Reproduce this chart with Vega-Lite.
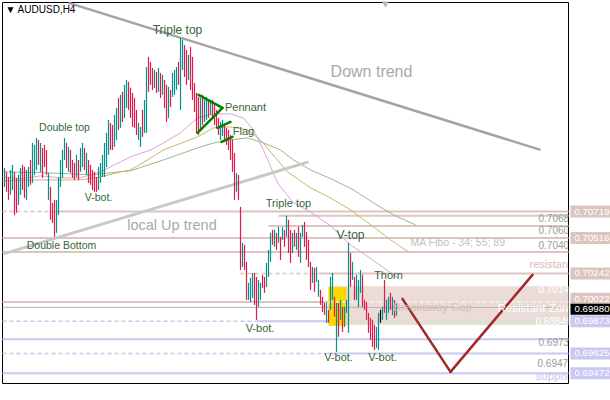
{
"$schema": "https://vega.github.io/schema/vega-lite/v6.json",
"width": 566, "height": 381,
"autosize": {"type": "none"},
"padding": {"left": 2, "top": 2, "right": 42, "bottom": 17},
"background": "white",
"config": {"view": {"stroke": "black", "strokeWidth": 1}, "font": "Liberation Sans"},
"datasets": {
"bars": [
{"t":1,"h":0.71056,"l":0.70909,"d":"u"},{"t":2,"h":0.71025,"l":0.70871,"d":"d"},{"t":3,"h":0.70986,"l":0.70809,"d":"d"},{"t":4,"h":0.7104,"l":0.70848,"d":"u"},{"t":5,"h":0.71079,"l":0.70886,"d":"u"},{"t":6,"h":0.71025,"l":0.70693,"d":"d"},{"t":7,"h":0.70979,"l":0.70709,"d":"d"},{"t":8,"h":0.71002,"l":0.7077,"d":"u"},{"t":9,"h":0.71056,"l":0.70848,"d":"u"},{"t":10,"h":0.71079,"l":0.70886,"d":"d"},
{"t":11,"h":0.71063,"l":0.70824,"d":"d"},{"t":12,"h":0.7104,"l":0.70809,"d":"u"},{"t":13,"h":0.71063,"l":0.70909,"d":"u"},{"t":14,"h":0.71117,"l":0.70925,"d":"d"},{"t":15,"h":0.71248,"l":0.7094,"d":"u"},{"t":16,"h":0.71233,"l":0.71002,"d":"u"},{"t":17,"h":0.71287,"l":0.7104,"d":"u"},{"t":18,"h":0.71272,"l":0.71079,"d":"d"},{"t":19,"h":0.71248,"l":0.71025,"d":"u"},{"t":20,"h":0.7121,"l":0.70979,"d":"d"},
{"t":21,"h":0.71233,"l":0.71063,"d":"d"},{"t":22,"h":0.71194,"l":0.71002,"d":"d"},{"t":23,"h":0.71017,"l":0.70809,"d":"u"},{"t":24,"h":0.70909,"l":0.70655,"d":"d"},{"t":25,"h":0.70786,"l":0.70632,"d":"d"},{"t":26,"h":0.70809,"l":0.70524,"d":"d"},{"t":27,"h":0.70809,"l":0.70555,"d":"u"},{"t":28,"h":0.70986,"l":0.70693,"d":"u"},{"t":29,"h":0.71117,"l":0.70909,"d":"u"},{"t":30,"h":0.71194,"l":0.70979,"d":"u"},
{"t":31,"h":0.71287,"l":0.71117,"d":"u"},{"t":32,"h":0.71248,"l":0.71056,"d":"d"},{"t":33,"h":0.71218,"l":0.71025,"d":"u"},{"t":34,"h":0.71194,"l":0.71017,"d":"d"},{"t":35,"h":0.71117,"l":0.70979,"d":"d"},{"t":36,"h":0.71094,"l":0.70963,"d":"d"},{"t":37,"h":0.71156,"l":0.70986,"d":"u"},{"t":38,"h":0.71117,"l":0.70963,"d":"d"},{"t":39,"h":0.7121,"l":0.71025,"d":"u"},{"t":40,"h":0.71248,"l":0.71063,"d":"u"},
{"t":41,"h":0.7121,"l":0.7104,"d":"d"},{"t":42,"h":0.71171,"l":0.71002,"d":"u"},{"t":43,"h":0.71117,"l":0.7094,"d":"d"},{"t":44,"h":0.71079,"l":0.70925,"d":"d"},{"t":45,"h":0.7104,"l":0.70886,"d":"d"},{"t":46,"h":0.71025,"l":0.70871,"d":"d"},{"t":47,"h":0.70986,"l":0.70871,"d":"d"},{"t":48,"h":0.71063,"l":0.70886,"d":"u"},{"t":49,"h":0.71094,"l":0.7094,"d":"u"},{"t":50,"h":0.71156,"l":0.70986,"d":"u"},
{"t":51,"h":0.71248,"l":0.70986,"d":"u"},{"t":52,"h":0.71326,"l":0.71063,"d":"u"},{"t":53,"h":0.71426,"l":0.71156,"d":"u"},{"t":54,"h":0.71403,"l":0.71194,"d":"d"},{"t":55,"h":0.71387,"l":0.71194,"d":"d"},{"t":56,"h":0.71464,"l":0.71218,"d":"u"},{"t":57,"h":0.71518,"l":0.71272,"d":"u"},{"t":58,"h":0.71595,"l":0.71349,"d":"d"},{"t":59,"h":0.71619,"l":0.71364,"d":"u"},{"t":60,"h":0.71642,"l":0.7141,"d":"d"},
{"t":61,"h":0.71696,"l":0.71441,"d":"u"},{"t":62,"h":0.71734,"l":0.71518,"d":"u"},{"t":63,"h":0.71719,"l":0.71503,"d":"d"},{"t":64,"h":0.71673,"l":0.71441,"d":"d"},{"t":65,"h":0.71634,"l":0.71372,"d":"d"},{"t":66,"h":0.71595,"l":0.71364,"d":"d"},{"t":67,"h":0.71503,"l":0.7131,"d":"d"},{"t":68,"h":0.71403,"l":0.71272,"d":"u"},{"t":69,"h":0.71372,"l":0.71218,"d":"u"},{"t":70,"h":0.71503,"l":0.71295,"d":"d"},
{"t":71,"h":0.7158,"l":0.71326,"d":"u"},{"t":72,"h":0.71834,"l":0.71326,"d":"u"},{"t":73,"h":0.71912,"l":0.71642,"d":"d"},{"t":74,"h":0.71873,"l":0.71696,"d":"d"},{"t":75,"h":0.71827,"l":0.71657,"d":"d"},{"t":76,"h":0.71811,"l":0.71673,"d":"u"},{"t":77,"h":0.71796,"l":0.71634,"d":"d"},{"t":78,"h":0.71827,"l":0.71642,"d":"u"},{"t":79,"h":0.71788,"l":0.71595,"d":"d"},{"t":80,"h":0.71773,"l":0.71619,"d":"u"},
{"t":81,"h":0.71734,"l":0.71518,"d":"d"},{"t":82,"h":0.71696,"l":0.7141,"d":"d"},{"t":83,"h":0.7168,"l":0.71441,"d":"u"},{"t":84,"h":0.71657,"l":0.71526,"d":"d"},{"t":85,"h":0.71788,"l":0.71603,"d":"u"},{"t":86,"h":0.71811,"l":0.71619,"d":"u"},{"t":87,"h":0.71834,"l":0.71657,"d":"u"},{"t":88,"h":0.71873,"l":0.71696,"d":"d"},{"t":89,"h":0.72058,"l":0.71503,"d":"u"},{"t":90,"h":0.72043,"l":0.71811,"d":"u"},
{"t":91,"h":0.72004,"l":0.71757,"d":"d"},{"t":92,"h":0.71965,"l":0.71696,"d":"d"},{"t":93,"h":0.71927,"l":0.71734,"d":"u"},{"t":94,"h":0.71989,"l":0.71657,"d":"d"},{"t":95,"h":0.71912,"l":0.7158,"d":"d"},{"t":96,"h":0.71711,"l":0.71487,"d":"d"},{"t":97,"h":0.71634,"l":0.71326,"d":"d"},{"t":98,"h":0.71603,"l":0.7131,"d":"d"},{"t":99,"h":0.71595,"l":0.71349,"d":"u"},{"t":100,"h":0.71619,"l":0.71387,"d":"d"},
{"t":101,"h":0.7158,"l":0.7141,"d":"u"},{"t":102,"h":0.71603,"l":0.71426,"d":"u"},{"t":103,"h":0.7158,"l":0.71441,"d":"d"},{"t":104,"h":0.71565,"l":0.71464,"d":"u"},{"t":105,"h":0.7158,"l":0.71441,"d":"d"},{"t":106,"h":0.71541,"l":0.71387,"d":"d"},{"t":107,"h":0.71503,"l":0.71364,"d":"d"},{"t":108,"h":0.71441,"l":0.7131,"d":"d"},{"t":109,"h":0.7141,"l":0.71272,"d":"u"},{"t":110,"h":0.71426,"l":0.71302,"d":"u"},
{"t":111,"h":0.71387,"l":0.71256,"d":"d"},{"t":112,"h":0.71364,"l":0.71233,"d":"d"},{"t":113,"h":0.71349,"l":0.71194,"d":"d"},{"t":114,"h":0.7131,"l":0.71117,"d":"d"},{"t":115,"h":0.71272,"l":0.71025,"d":"d"},{"t":116,"h":0.71171,"l":0.70809,"d":"d"},{"t":117,"h":0.71017,"l":0.70871,"d":"u"},{"t":118,"h":0.71002,"l":0.70809,"d":"d"},{"t":119,"h":0.70755,"l":0.70269,"d":"d"},{"t":120,"h":0.70478,"l":0.70292,"d":"u"},
{"t":121,"h":0.70462,"l":0.70269,"d":"d"},{"t":122,"h":0.70331,"l":0.70038,"d":"d"},{"t":123,"h":0.70169,"l":0.70038,"d":"u"},{"t":124,"h":0.70208,"l":0.70023,"d":"u"},{"t":125,"h":0.70246,"l":0.70053,"d":"u"},{"t":126,"h":0.70246,"l":0.69999,"d":"d"},{"t":127,"h":0.70215,"l":0.69884,"d":"d"},{"t":128,"h":0.70192,"l":0.69984,"d":"u"},{"t":129,"h":0.70169,"l":0.70038,"d":"u"},{"t":130,"h":0.70231,"l":0.70131,"d":"d"},
{"t":131,"h":0.70215,"l":0.70092,"d":"d"},{"t":132,"h":0.70323,"l":0.70138,"d":"u"},{"t":133,"h":0.70423,"l":0.70215,"d":"u"},{"t":134,"h":0.70555,"l":0.70331,"d":"u"},{"t":135,"h":0.70578,"l":0.70462,"d":"d"},{"t":136,"h":0.70578,"l":0.70447,"d":"u"},{"t":137,"h":0.70555,"l":0.70423,"d":"d"},{"t":138,"h":0.70601,"l":0.70478,"d":"u"},{"t":139,"h":0.70524,"l":0.70346,"d":"d"},{"t":140,"h":0.70601,"l":0.70501,"d":"u"},
{"t":141,"h":0.70578,"l":0.70447,"d":"d"},{"t":142,"h":0.70686,"l":0.70524,"d":"u"},{"t":143,"h":0.70655,"l":0.704,"d":"d"},{"t":144,"h":0.70578,"l":0.70323,"d":"d"},{"t":145,"h":0.70555,"l":0.704,"d":"u"},{"t":146,"h":0.70578,"l":0.70447,"d":"d"},{"t":147,"h":0.70555,"l":0.70423,"d":"u"},{"t":148,"h":0.70601,"l":0.7037,"d":"d"},{"t":149,"h":0.70555,"l":0.70323,"d":"u"},{"t":150,"h":0.70616,"l":0.70524,"d":"u"},
{"t":151,"h":0.70639,"l":0.70447,"d":"d"},{"t":152,"h":0.70562,"l":0.70346,"d":"d"},{"t":153,"h":0.70501,"l":0.70292,"d":"d"},{"t":154,"h":0.70331,"l":0.70115,"d":"d"},{"t":155,"h":0.70292,"l":0.70169,"d":"u"},{"t":156,"h":0.70285,"l":0.701,"d":"d"},{"t":157,"h":0.70292,"l":0.70177,"d":"u"},{"t":158,"h":0.70192,"l":0.70061,"d":"u"},{"t":159,"h":0.70115,"l":0.69999,"d":"d"},{"t":160,"h":0.70061,"l":0.69945,"d":"d"},
{"t":161,"h":0.70015,"l":0.69922,"d":"d"},{"t":162,"h":0.70015,"l":0.69861,"d":"u"},{"t":163,"h":0.69961,"l":0.69861,"d":"d"},{"t":164,"h":0.70215,"l":0.69961,"d":"u"},{"t":165,"h":0.70246,"l":0.70038,"d":"u"},{"t":166,"h":0.70061,"l":0.69907,"d":"d"},{"t":167,"h":0.70015,"l":0.69637,"d":"u"},{"t":168,"h":0.70015,"l":0.69753,"d":"d"},{"t":169,"h":0.70038,"l":0.69884,"d":"u"},{"t":170,"h":0.69984,"l":0.69791,"d":"d"},
{"t":171,"h":0.69984,"l":0.6983,"d":"u"},{"t":172,"h":0.70038,"l":0.69938,"d":"u"},{"t":173,"h":0.70478,"l":0.69784,"d":"u"},{"t":174,"h":0.704,"l":0.70138,"d":"d"},{"t":175,"h":0.70331,"l":0.70192,"d":"u"},{"t":176,"h":0.70215,"l":0.70038,"d":"d"},{"t":177,"h":0.70231,"l":0.70038,"d":"u"},{"t":178,"h":0.70192,"l":0.69984,"d":"u"},{"t":179,"h":0.70269,"l":0.70092,"d":"u"},{"t":180,"h":0.70231,"l":0.69984,"d":"d"},
{"t":181,"h":0.70038,"l":0.69961,"d":"d"},{"t":182,"h":0.70023,"l":0.69884,"d":"d"},{"t":183,"h":0.69938,"l":0.69784,"d":"d"},{"t":184,"h":0.69899,"l":0.6973,"d":"d"},{"t":185,"h":0.69884,"l":0.69676,"d":"d"},{"t":186,"h":0.69845,"l":0.69652,"d":"d"},{"t":187,"h":0.6983,"l":0.69668,"d":"u"},{"t":188,"h":0.69938,"l":0.69652,"d":"u"},{"t":189,"h":0.69961,"l":0.69861,"d":"n"},{"t":190,"h":0.69984,"l":0.69884,"d":"u"},
{"t":191,"h":0.70192,"l":0.69938,"d":"d"},{"t":192,"h":0.70038,"l":0.69884,"d":"u"},{"t":193,"h":0.70061,"l":0.69938,"d":"u"},{"t":194,"h":0.70092,"l":0.69961,"d":"d"},{"t":195,"h":0.70061,"l":0.69922,"d":"u"},{"t":196,"h":0.70038,"l":0.69899,"d":"d"},{"t":197,"h":0.70015,"l":0.69915,"d":"u"}
],
"ma34": [{"t":0,"p":0.70986},{"t":9,"p":0.70971},{"t":19,"p":0.70994},{"t":29,"p":0.70979},{"t":39,"p":0.70979},{"t":49,"p":0.71025},{"t":59,"p":0.71102},{"t":64,"p":0.71141},{"t":74,"p":0.71194},{"t":80.5,"p":0.71248},{"t":89,"p":0.71326},{"t":97.5,"p":0.71441},{"t":105.5,"p":0.71472},{"t":114,"p":0.71472},{"t":120.5,"p":0.71441},{"t":125.5,"p":0.71349},{"t":130.5,"p":0.71194},{"t":137.5,"p":0.7094},{"t":145.5,"p":0.70786},{"t":154,"p":0.70716},{"t":164,"p":0.70609},{"t":174,"p":0.70462},{"t":181.5,"p":0.70385},{"t":190.5,"p":0.70285},{"t":197.5,"p":0.70208}],
"ma55": [{"t":0,"p":0.70955},{"t":19,"p":0.70963},{"t":39,"p":0.70963},{"t":49,"p":0.70986},{"t":59,"p":0.71025},{"t":64,"p":0.7104},{"t":72.5,"p":0.71117},{"t":80.5,"p":0.71194},{"t":97.5,"p":0.71295},{"t":105.5,"p":0.71364},{"t":114,"p":0.71372},{"t":122.5,"p":0.71349},{"t":129,"p":0.71272},{"t":134,"p":0.71179},{"t":142.5,"p":0.71025},{"t":154,"p":0.70902},{"t":164,"p":0.70824},{"t":174,"p":0.70732},{"t":185.5,"p":0.70601},{"t":194,"p":0.70501},{"t":203,"p":0.70408}],
"ma89": [{"t":0,"p":0.71025},{"t":24,"p":0.71017},{"t":44,"p":0.71002},{"t":64,"p":0.71033},{"t":80.5,"p":0.71117},{"t":97.5,"p":0.7121},{"t":105.5,"p":0.71248},{"t":114,"p":0.71272},{"t":122.5,"p":0.71287},{"t":130.5,"p":0.71248},{"t":139,"p":0.71194},{"t":145.5,"p":0.71117},{"t":154,"p":0.7104},{"t":165.5,"p":0.70963},{"t":175.5,"p":0.70886},{"t":185.5,"p":0.70786},{"t":195.5,"p":0.70693},{"t":206.5,"p":0.70616}]
},
"layer": [
{"data": {"values": [{"t": 163, "t2": 283, "p": 0.70144, "p2": 0.69845}]},
 "mark": {"type": "rect", "fill": "#ecdcd8"},
 "encoding": {"x": {"field": "t", "type": "quantitative", "scale": {"domain": [-0.25, 282.75], "nice": false, "zero": false}, "axis": null}, "x2": {"field": "t2"},
  "y": {"field": "p", "type": "quantitative", "scale": {"domain": [0.69397, 0.72335], "nice": false, "zero": false}, "axis": null}, "y2": {"field": "p2"}}},
{"data": {"values": [{"t": 163, "t2": 172, "p": 0.70138, "p2": 0.69838}]},
 "mark": {"type": "rect", "fill": "#ffd700"},
 "encoding": {"x": {"field": "t", "type": "quantitative", "axis": null}, "x2": {"field": "t2"}, "y": {"field": "p", "type": "quantitative", "axis": null}, "y2": {"field": "p2"}}},
{"data": {"values": [{"p": 0.70719, "t": 26.5, "t2": 283}, {"p": 0.70686, "t": 138, "t2": 283}, {"p": 0.70607, "t": 133, "t2": 283}, {"p": 0.70516, "t": 0, "t2": 283}, {"p": 0.70408, "t": 0, "t2": 283}, {"p": 0.70242, "t": 159, "t2": 283}, {"p": 0.70022, "t": 0, "t2": 163}]},
 "mark": {"type": "rule", "color": "#dcc5bf", "strokeWidth": 2},
 "encoding": {"x": {"field": "t", "type": "quantitative", "axis": null}, "x2": {"field": "t2"}, "y": {"field": "p", "type": "quantitative", "axis": null}}},
{"data": {"values": [{"p": 0.70719, "t": 0, "t2": 26.5}, {"p": 0.70242, "t": 119, "t2": 159}]},
 "mark": {"type": "rule", "color": "#dcc5bf", "strokeWidth": 1.5, "strokeDash": [4, 3]},
 "encoding": {"x": {"field": "t", "type": "quantitative", "axis": null}, "x2": {"field": "t2"}, "y": {"field": "p", "type": "quantitative", "axis": null}}},
{"data": {"values": [{"p": 0.70022, "t": 163, "t2": 283}]},
 "mark": {"type": "rule", "color": "#f8f0ee", "strokeWidth": 1.5, "strokeDash": [4, 3]},
 "encoding": {"x": {"field": "t", "type": "quantitative", "axis": null}, "x2": {"field": "t2"}, "y": {"field": "p", "type": "quantitative", "axis": null}}},
{"data": {"values": [{"p": 0.69873, "t": 127, "t2": 163}, {"p": 0.69735, "t": 0, "t2": 283}, {"p": 0.69625, "t": 163, "t2": 283}, {"p": 0.69472, "t": 0, "t2": 283}]},
 "mark": {"type": "rule", "color": "#c8c8f0", "strokeWidth": 2},
 "encoding": {"x": {"field": "t", "type": "quantitative", "axis": null}, "x2": {"field": "t2"}, "y": {"field": "p", "type": "quantitative", "axis": null}}},
{"data": {"values": [{"p": 0.69873, "t": 0, "t2": 127}, {"p": 0.69625, "t": 0, "t2": 163}]},
 "mark": {"type": "rule", "color": "#c8c8f0", "strokeWidth": 1.5, "strokeDash": [4, 3]},
 "encoding": {"x": {"field": "t", "type": "quantitative", "axis": null}, "x2": {"field": "t2"}, "y": {"field": "p", "type": "quantitative", "axis": null}}},
{"data": {"values": [{"p": 0.69873, "t": 171.5, "t2": 283}]},
 "mark": {"type": "rule", "color": "#bfeccc", "strokeWidth": 1.5, "strokeDash": [4, 3]},
 "encoding": {"x": {"field": "t", "type": "quantitative", "axis": null}, "x2": {"field": "t2"}, "y": {"field": "p", "type": "quantitative", "axis": null}}},
{"data": {"values": [{"p": 0.6998, "t": 0, "t2": 283}]},
 "mark": {"type": "rule", "color": "#b4b4b4", "strokeWidth": 1},
 "encoding": {"x": {"field": "t", "type": "quantitative", "axis": null}, "x2": {"field": "t2"}, "y": {"field": "p", "type": "quantitative", "axis": null}}},
{"data": {"name": "ma89"}, "mark": {"type": "line", "color": "#8fbc8f", "strokeWidth": 1},
 "encoding": {"x": {"field": "t", "type": "quantitative", "axis": null}, "y": {"field": "p", "type": "quantitative", "axis": null}}},
{"data": {"name": "ma55"}, "mark": {"type": "line", "color": "#c9b866", "strokeWidth": 1},
 "encoding": {"x": {"field": "t", "type": "quantitative", "axis": null}, "y": {"field": "p", "type": "quantitative", "axis": null}}},
{"data": {"name": "ma34"}, "mark": {"type": "line", "color": "#dda0dd", "strokeWidth": 1},
 "encoding": {"x": {"field": "t", "type": "quantitative", "axis": null}, "y": {"field": "p", "type": "quantitative", "axis": null}}},
{"data": {"values": [{"t": 33, "p": 0.72328, "t2": 269, "p2": 0.71195}]},
 "mark": {"type": "rule", "color": "#a4a4a4", "strokeWidth": 2.5, "clip": true},
 "encoding": {"x": {"field": "t", "type": "quantitative", "axis": null}, "x2": {"field": "t2"}, "y": {"field": "p", "type": "quantitative", "axis": null}, "y2": {"field": "p2"}}},
{"data": {"values": [{"t": 0.5, "p": 0.70393, "t2": 153, "p2": 0.71102}]},
 "mark": {"type": "rule", "color": "#c8c8c8", "strokeWidth": 3, "clip": true},
 "encoding": {"x": {"field": "t", "type": "quantitative", "axis": null}, "x2": {"field": "t2"}, "y": {"field": "p", "type": "quantitative", "axis": null}, "y2": {"field": "p2"}}},
{"data": {"name": "bars"},
 "mark": {"type": "rule", "strokeWidth": 1.2},
 "encoding": {
  "x": {"field": "t", "type": "quantitative", "axis": {"orient": "bottom", "values": [0.5, 32, 64, 96, 128, 160, 192], "labelExpr": "datum.value < 1 ? '27 Mar 2019' : datum.value == 32 ? '3 Apr 16:00' : datum.value == 64 ? '11 Apr 00:00' : datum.value == 96 ? '18 Apr 08:00' : datum.value == 128 ? '25 Apr 16:00' : datum.value == 160 ? '3 May 00:00' : '10 May 08:00'", "labelAlign": "left", "labelBaseline": "top", "labelFont": "Liberation Sans", "labelFontSize": 9.5, "labelColor": "#000000", "labelPadding": 1, "labelOverlap": false, "labelFlush": false, "tickSize": 4, "tickColor": "#000000", "domainColor": "#000000", "grid": false, "title": null, "zindex": 0}},
  "y": {"field": "l", "type": "quantitative", "axis": {"orient": "right", "values": [0.72235, 0.7198, 0.7172, 0.71465, 0.7121, 0.70955, 0.7044, 0.70185, 0.69675, 0.6942], "format": ".5f", "labelFont": "Liberation Sans", "labelFontSize": 9.7, "labelColor": "#000000", "labelPadding": 2, "labelOverlap": false, "labelFlush": false, "tickSize": 4, "tickColor": "#000000", "domainColor": "#000000", "grid": false, "title": null, "zindex": 0}},
  "y2": {"field": "h"},
  "color": {"field": "d", "type": "nominal", "scale": {"domain": ["u", "d", "n"], "range": ["#00938c", "#e8174a", "#000000"]}, "legend": null}}},
{"data": {"values": [{"t": 98, "p": 0.71619, "t2": 110, "p2": 0.71518}, {"t": 110, "p": 0.71518, "t2": 97.5, "p2": 0.71326}, {"t": 107.5, "p": 0.71364, "t2": 114, "p2": 0.7141}, {"t": 109.5, "p": 0.71256, "t2": 115, "p2": 0.71295}]},
 "mark": {"type": "rule", "color": "#008000", "strokeWidth": 2.5, "strokeCap": "round"},
 "encoding": {"x": {"field": "t", "type": "quantitative", "axis": null}, "x2": {"field": "t2"}, "y": {"field": "p", "type": "quantitative", "axis": null}, "y2": {"field": "p2"}}},
{"data": {"values": [{"t": 200, "p": 0.70046, "t2": 224, "p2": 0.69483}, {"t": 224, "p": 0.69483, "t2": 265, "p2": 0.70231}]},
 "mark": {"type": "rule", "color": "#a0282a", "strokeWidth": 2.5, "strokeCap": "round"},
 "encoding": {"x": {"field": "t", "type": "quantitative", "axis": null}, "x2": {"field": "t2"}, "y": {"field": "p", "type": "quantitative", "axis": null}, "y2": {"field": "p2"}}},
{"data": {"values": [{"t": 87.5, "p": 0.7212, "label": "Triple top"}, {"t": 174, "p": 0.70539, "label": "V-top"}]},
 "mark": {"type": "text", "color": "#336633", "fontSize": 12, "align": "center", "baseline": "middle"},
 "encoding": {"x": {"field": "t", "type": "quantitative", "axis": null}, "y": {"field": "p", "type": "quantitative", "axis": null}, "text": {"field": "label"}}},
{"data": {"values": [{"t": 121.5, "p": 0.71518, "label": "Pennant"}, {"t": 120.5, "p": 0.71333, "label": "Flag"}, {"t": 193, "p": 0.70223, "label": "Thorn"}, {"t": 168, "p": 0.69591, "label": "V-bot."}, {"t": 190, "p": 0.69591, "label": "V-bot."}, {"t": 128.75, "p": 0.69814, "label": "V-bot."}, {"t": 143, "p": 0.70778, "label": "Triple top"}]},
 "mark": {"type": "text", "color": "#336633", "fontSize": 11, "align": "center", "baseline": "middle"},
 "encoding": {"x": {"field": "t", "type": "quantitative", "axis": null}, "y": {"field": "p", "type": "quantitative", "axis": null}, "text": {"field": "label"}}},
{"data": {"values": [{"t": 31, "p": 0.71364, "label": "Double top"}, {"t": 29.5, "p": 0.70454, "label": "Double Bottom"}, {"t": 48, "p": 0.70824, "label": "V-bot."}]},
 "mark": {"type": "text", "color": "#336633", "fontSize": 10.5, "align": "center", "baseline": "middle"},
 "encoding": {"x": {"field": "t", "type": "quantitative", "axis": null}, "y": {"field": "p", "type": "quantitative", "axis": null}, "text": {"field": "label"}}},
{"data": {"values": [{"t": 184.5, "p": 0.71796, "label": "Down trend"}]},
 "mark": {"type": "text", "color": "#a8a8a8", "fontSize": 16, "align": "center", "baseline": "middle"},
 "encoding": {"x": {"field": "t", "type": "quantitative", "axis": null}, "y": {"field": "p", "type": "quantitative", "axis": null}, "text": {"field": "label"}}},
{"data": {"values": [{"t": 84.75, "p": 0.70609, "label": "local Up trend"}]},
 "mark": {"type": "text", "color": "#a8a8a8", "fontSize": 14.5, "align": "center", "baseline": "middle"},
 "encoding": {"x": {"field": "t", "type": "quantitative", "axis": null}, "y": {"field": "p", "type": "quantitative", "axis": null}, "text": {"field": "label"}}},
{"data": {"values": [{"t": 204, "p": 0.70478, "label": "MA Fibo - 34; 55; 89"}]},
 "mark": {"type": "text", "color": "#c0c0c0", "fontSize": 10.5, "align": "left", "baseline": "middle"},
 "encoding": {"x": {"field": "t", "type": "quantitative", "axis": null}, "y": {"field": "p", "type": "quantitative", "axis": null}, "text": {"field": "label"}}},
{"data": {"values": [{"t": 263.5, "p": 0.70308, "label": "resistant"}, {"t": 195.5, "p": 0.69976, "label": "Breakaway Gap"}]},
 "mark": {"type": "text", "color": "#d6bcb5", "fontSize": 11, "align": "left", "baseline": "middle", "clip": true},
 "encoding": {"x": {"field": "t", "type": "quantitative", "axis": null}, "y": {"field": "p", "type": "quantitative", "axis": null}, "text": {"field": "label"}}},
{"data": {"values": [{"t": 247.5, "p": 0.69969, "label": "Resistant Zone"}]},
 "mark": {"type": "text", "color": "#ffffff", "fontSize": 11.5, "align": "left", "baseline": "middle", "clip": true},
 "encoding": {"x": {"field": "t", "type": "quantitative", "axis": null}, "y": {"field": "p", "type": "quantitative", "axis": null}, "text": {"field": "label"}}},
{"data": {"values": [{"t": 268, "p": 0.70115, "label": "0.70144"}, {"t": 266.5, "p": 0.69868, "label": "0.69845"}]},
 "mark": {"type": "text", "color": "#ffffff", "fontSize": 10, "align": "left", "baseline": "middle", "clip": true},
 "encoding": {"x": {"field": "t", "type": "quantitative", "axis": null}, "y": {"field": "p", "type": "quantitative", "axis": null}, "text": {"field": "label"}}},
{"data": {"values": [{"t": 268, "p": 0.70663, "label": "0.70686"}, {"t": 268, "p": 0.7057, "label": "0.70607"}, {"t": 268, "p": 0.70454, "label": "0.70408"}, {"t": 268, "p": 0.69706, "label": "0.69735"}, {"t": 267.5, "p": 0.69545, "label": "0.69472"}]},
 "mark": {"type": "text", "color": "#9a9a9a", "fontSize": 10, "align": "left", "baseline": "middle", "clip": true},
 "encoding": {"x": {"field": "t", "type": "quantitative", "axis": null}, "y": {"field": "p", "type": "quantitative", "axis": null}, "text": {"field": "label"}}},
{"data": {"values": [{"t": 266.5, "p": 0.69444, "label": "support"}]},
 "mark": {"type": "text", "color": "#c8c8f0", "fontSize": 11.5, "align": "left", "baseline": "middle", "clip": true},
 "encoding": {"x": {"field": "t", "type": "quantitative", "axis": null}, "y": {"field": "p", "type": "quantitative", "axis": null}, "text": {"field": "label"}}},
{"data": {"values": [{"t": 1.5, "p": 0.72274, "label": "▼ AUDUSD,H4"}]},
 "mark": {"type": "text", "color": "#000000", "fontSize": 10, "align": "left", "baseline": "middle"},
 "encoding": {"x": {"field": "t", "type": "quantitative", "axis": null}, "y": {"field": "p", "type": "quantitative", "axis": null}, "text": {"field": "label"}}},
{"data": {"values": [{"t": 191.5, "p": 0.72315}]},
 "mark": {"type": "point", "shape": "triangle-down", "size": 50, "filled": true, "color": "#b8b8b8", "opacity": 1},
 "encoding": {"x": {"field": "t", "type": "quantitative", "axis": null}, "y": {"field": "p", "type": "quantitative", "axis": null}}},
{"data": {"values": [{"p": 0.70719, "label": "0.70719"}, {"p": 0.70516, "label": "0.70516"}, {"p": 0.70242, "label": "0.70242"}, {"p": 0.70046, "label": "0.70022"}]},
 "layer": [
  {"mark": {"type": "tick", "orient": "horizontal", "size": 40, "thickness": 12, "color": "#dcc5bf", "opacity": 1},
   "encoding": {"x": {"datum": 294, "type": "quantitative", "axis": null}, "y": {"field": "p", "type": "quantitative", "axis": null}}},
  {"mark": {"type": "text", "color": "#ffffff", "fontSize": 9.7, "align": "left", "baseline": "middle"},
   "encoding": {"x": {"datum": 286, "type": "quantitative", "axis": null}, "y": {"field": "p", "type": "quantitative", "axis": null}, "text": {"field": "label"}}}
 ]},
{"data": {"values": [{"p": 0.69966, "label": "0.69980"}]},
 "layer": [
  {"mark": {"type": "tick", "orient": "horizontal", "size": 40, "thickness": 11, "color": "#000000", "opacity": 1},
   "encoding": {"x": {"datum": 294, "type": "quantitative", "axis": null}, "y": {"field": "p", "type": "quantitative", "axis": null}}},
  {"mark": {"type": "text", "color": "#ffffff", "fontSize": 9.7, "align": "left", "baseline": "middle"},
   "encoding": {"x": {"datum": 286, "type": "quantitative", "axis": null}, "y": {"field": "p", "type": "quantitative", "axis": null}, "text": {"field": "label"}}}
 ]},
{"data": {"values": [{"p": 0.69873, "label": "0.69873"}, {"p": 0.69625, "label": "0.69625"}, {"p": 0.69472, "label": "0.69472"}]},
 "layer": [
  {"mark": {"type": "tick", "orient": "horizontal", "size": 40, "thickness": 12, "color": "#c8c8f0", "opacity": 1},
   "encoding": {"x": {"datum": 294, "type": "quantitative", "axis": null}, "y": {"field": "p", "type": "quantitative", "axis": null}}},
  {"mark": {"type": "text", "color": "#ffffff", "fontSize": 9.7, "align": "left", "baseline": "middle"},
   "encoding": {"x": {"datum": 286, "type": "quantitative", "axis": null}, "y": {"field": "p", "type": "quantitative", "axis": null}, "text": {"field": "label"}}}
 ]}
]
}
